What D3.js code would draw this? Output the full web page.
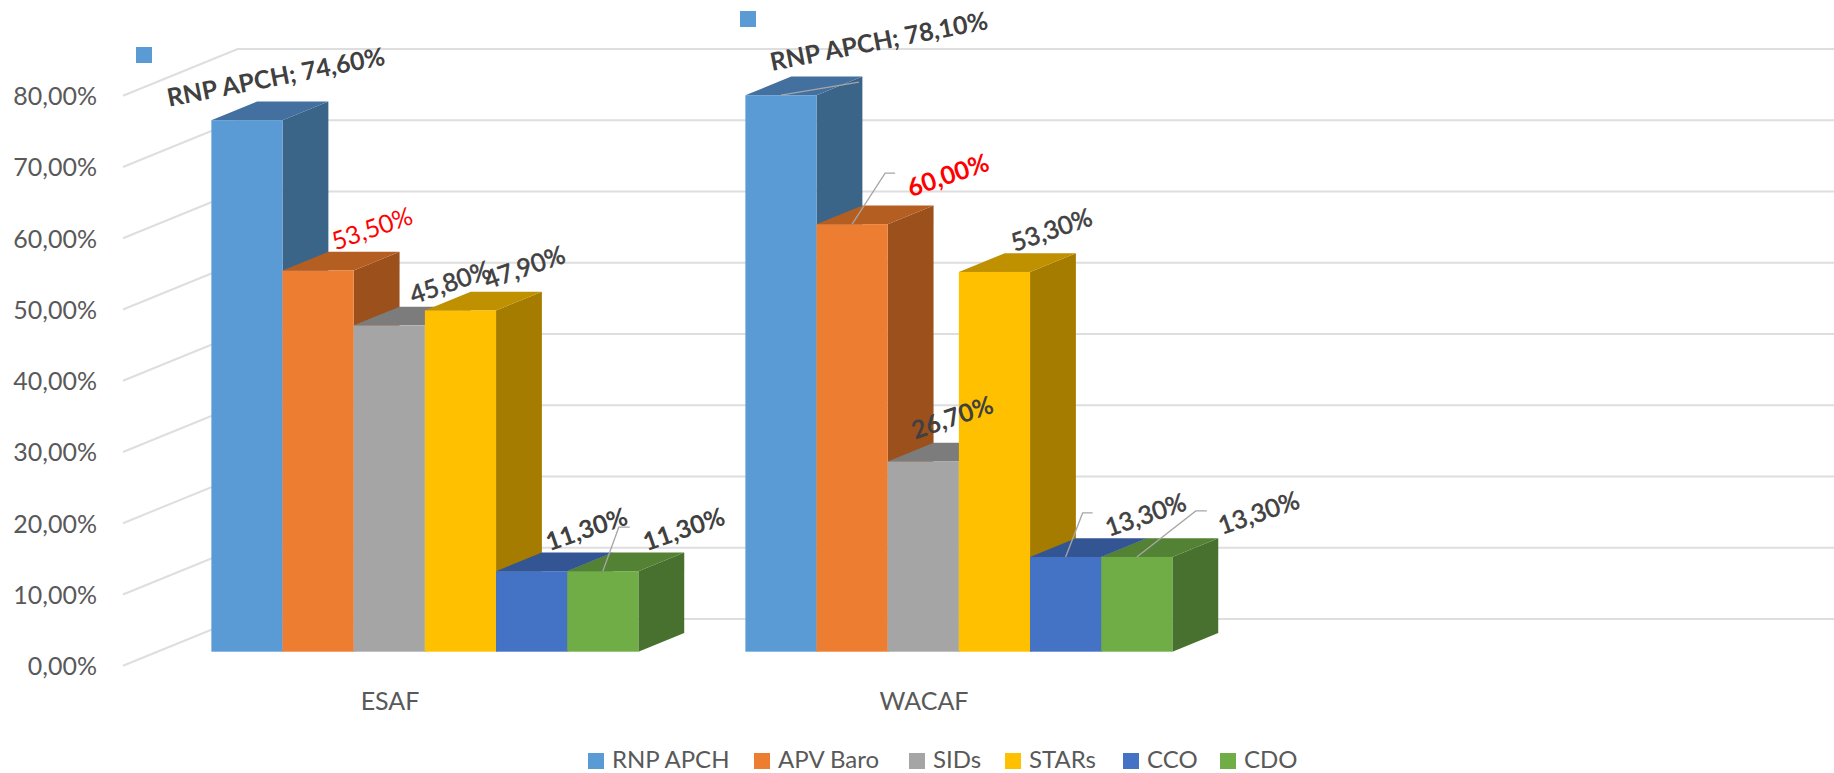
<!DOCTYPE html>
<html>
<head>
<meta charset="utf-8">
<script src="https://cdn.jsdelivr.net/npm/d3@7"></script>
<style>
  html, body { margin: 0; background: #fff; }
  svg { display: block; font-family: Lato, "Open Sans", sans-serif; }
</style>
</head>
<body>
<svg id="chart" width="1834" height="773"></svg>
<script>
const categories = ['ESAF', 'WACAF', ''];
const seriesNames = ['RNP APCH', 'APV Baro', 'SIDs', 'STARs', 'CCO', 'CDO'];
const esafValues = [0.746, 0.535, 0.458, 0.479, 0.113, 0.113];
const wacafValues = [0.781, 0.60, 0.267, 0.533, 0.133, 0.133];
const yTicks = [0, 0.1, 0.2, 0.3, 0.4, 0.5, 0.6, 0.7, 0.8];

const frontColors = ['#5b9bd5', '#ed7d31', '#a5a5a5', '#ffc000', '#4472c4', '#70ad47'];
const topColors = ['#44709f', '#b55e21', '#7c7c7c', '#bf9000', '#335593', '#548235'];
const sideColors = ['#3b6489', '#9c511c', '#696969', '#a67c00', '#2c4a80', '#48702e'];

// label centre, as an offset from the top centre of the bar's front face
const esafLabels = [
  { dx: 29, dy: -43, rot: -11, text: 'RNP APCH; 74,60%', weight: 700 },
  { dx: 54, dy: -42, color: '#ff0000', weight: 400 },
  { dx: 61, dy: -43, weight: 400, thick: 0.6 },
  { dx: 64, dy: -43, weight: 400, thick: 0.6 },
  { dx: 55, dy: -42, weight: 700 },
  { dx: 81, dy: -42, weight: 700, leader: [[16, -44], [27, -44]] }
];
const wacafLabels = [
  { dx: 98, dy: -54, rot: -11, text: 'RNP APCH; 78,10%', weight: 700, leader: [[78, -13]] },
  { dx: 96, dy: -49, color: '#ff0000', weight: 700, leader: [[33, -51], [43, -51]] },
  { dx: 29, dy: -44, weight: 700 },
  { dx: 57, dy: -42, weight: 400, thick: 0.6 },
  { dx: 80, dy: -42, weight: 400, thick: 0.6, leader: [[17, -44], [27, -44]] },
  { dx: 122, dy: -44, weight: 400, thick: 0.6, leader: [[59, -46], [70, -46]] }
];

const svg = d3.select('#chart');

// 3d box: front plane of the floor, depth runs up and to the right
const depth = { x: 114.6, y: -46.7 };
const x = d3.scaleBand().domain(categories).range([123, 1725]);
const inner = d3.scaleBand().domain(seriesNames).range([54, 481]);
const y = d3.scaleLinear().domain([0, 0.8]).range([665.7, 95.7]);
const barStart = 0.3;
const barDepth = 0.4;
const fmt = v => d3.format('.2f')(v * 100).replace('.', ',') + '%';

const grid = svg.append('g');
grid.selectAll('path')
  .data(yTicks)
  .enter().append('path')
  .attr('fill', 'none')
  .attr('stroke', '#dedede')
  .attr('stroke-width', 2)
  .attr('d', d => d3.line()([
    [x.range()[0], y(d)],
    [x.range()[0] + depth.x, y(d) + depth.y],
    [1834, y(d) + depth.y]
  ]));

svg.append('g')
  .selectAll('text')
  .data(yTicks)
  .enter().append('text')
  .attr('x', 97)
  .attr('y', d => y(d) + 9.5)
  .attr('text-anchor', 'end')
  .attr('font-size', 25)
  .attr('fill', '#595959')
  .text(d => fmt(d));

svg.append('g')
  .selectAll('text')
  .data(categories.filter(d => d))
  .enter().append('text')
  .attr('x', d => x(d) + x.bandwidth() / 2)
  .attr('y', 710)
  .attr('text-anchor', 'middle')
  .attr('font-size', 25)
  .attr('fill', '#595959')
  .text(d => d);

function drawGroup(category, values, labels) {
  const g = svg.append('g');
  const fx = i => x(category) + inner(seriesNames[i]) + barStart * depth.x;
  const w = inner.bandwidth();
  const dx = barDepth * depth.x;
  const dy = barDepth * depth.y;
  const base = y(0) + barStart * depth.y;
  const fy = v => y(v) + barStart * depth.y;

  values.forEach((v, i) => {
    const l = fx(i);
    const r = l + w;
    const t = fy(v);
    g.append('path').attr('fill', sideColors[i])
      .attr('d', d3.line()([[r, t], [r + dx, t + dy], [r + dx, base + dy], [r, base]]) + 'Z');
    g.append('path').attr('fill', topColors[i])
      .attr('d', d3.line()([[l, t], [l + dx, t + dy], [r + dx, t + dy], [r, t]]) + 'Z');
    g.append('rect').attr('fill', frontColors[i])
      .attr('x', l).attr('y', t).attr('width', w).attr('height', base - t);
  });

  values.forEach((v, i) => {
    const lab = labels[i];
    const cx = fx(i) + w / 2;
    const t = fy(v);
    if (lab.leader) {
      g.append('path')
        .attr('fill', 'none')
        .attr('stroke', '#a6a6a6')
        .attr('stroke-width', 1.3)
        .attr('d', d3.line()([[cx, t]].concat(lab.leader.map(p => [cx + p[0], t + p[1]]))));
    }
    const color = lab.color || '#404040';
    g.append('text')
      .attr('transform', `translate(${cx + lab.dx},${t + lab.dy}) rotate(${lab.rot || -19})`)
      .attr('text-anchor', 'middle')
      .attr('dy', '0.35em')
      .attr('font-size', 25)
      .attr('font-weight', lab.weight)
      .attr('fill', color)
      .attr('stroke', lab.thick ? color : 'none')
      .attr('stroke-width', lab.thick || 0)
      .text(lab.text || fmt(v));
  });
}

drawGroup('ESAF', esafValues, esafLabels);
drawGroup('WACAF', wacafValues, wacafLabels);

// stray legend keys left above the first bar of each group
svg.append('g')
  .selectAll('rect')
  .data([[136, 47], [740, 11]])
  .enter().append('rect')
  .attr('x', d => d[0]).attr('y', d => d[1])
  .attr('width', 16).attr('height', 16)
  .attr('fill', frontColors[0]);

const legendX = [588, 754, 909, 1005, 1123, 1220];
const legend = svg.append('g')
  .selectAll('g')
  .data(seriesNames)
  .enter().append('g')
  .attr('transform', (d, i) => `translate(${legendX[i]},753)`);
legend.append('rect')
  .attr('width', 16).attr('height', 16)
  .attr('fill', (d, i) => frontColors[i]);
legend.append('text')
  .attr('x', 24).attr('y', 15)
  .attr('font-size', 24)
  .attr('fill', '#595959')
  .text(d => d);
</script>
</body>
</html>
